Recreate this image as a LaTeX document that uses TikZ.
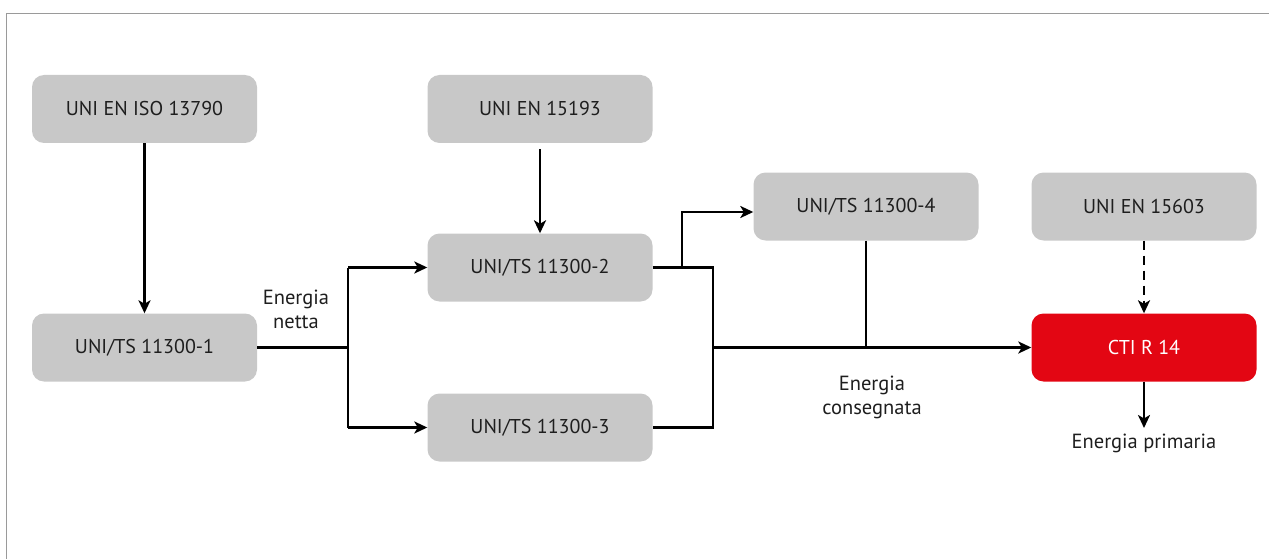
\documentclass[tikz,border=0pt]{standalone}
\usepackage{fontspec}
\setmainfont{PT Sans}
\usetikzlibrary{arrows.meta}
\definecolor{boxgray}{HTML}{C8C8C8}
\definecolor{ctired}{HTML}{E30613}
\definecolor{txt}{HTML}{1E1E1E}
\definecolor{frame}{HTML}{9A9A9A}
\begin{document}
\begin{tikzpicture}[x=1pt,y=-1pt,
  stdbox/.style={fill=boxgray,rounded corners=12pt,minimum width=225pt,minimum height=68pt,inner sep=0pt,text=txt,font=\fontsize{20}{23}\selectfont},
  redbox/.style={stdbox,fill=ctired,text=white},
  conn/.style={line width=2.4pt,draw=black},
  arr/.style={conn,-{Stealth[length=13pt,width=12pt,inset=3.5pt]}},
  lbl/.style={text=txt,font=\fontsize{20.5}{24}\selectfont,align=center,inner sep=0pt}]
\useasboundingbox (0,0) rectangle (1269,559);
\draw[frame,line width=1.5pt] (1269,13.5) -- (6.5,13.5) -- (6.5,559);

\node[stdbox] (iso) at (144.5,109) {UNI EN ISO 13790};
\node[stdbox] (en15193) at (540,109) {UNI EN 15193};
\node[stdbox] (ts4) at (866,206.5) {UNI/TS 11300-4};
\node[stdbox] (en15603) at (1144,206.5) {UNI EN 15603};
\node[stdbox] (ts1) at (144.5,347.5) {UNI/TS 11300-1};
\node[stdbox] (ts2) at (540,267.5) {UNI/TS 11300-2};
\node[stdbox] (ts3) at (540,427.5) {UNI/TS 11300-3};
\node[redbox] (cti) at (1144,347.5) {CTI R 14};

\coordinate (split) at (348,347.5);
\coordinate (splitT) at (348,267.5);
\coordinate (splitB) at (348,427.5);
\coordinate (jT) at (713,267.5);
\coordinate (jB) at (713,427.5);
\coordinate (jM) at (713,347.5);
\coordinate (br) at (682,267.5);
\coordinate (brT) at (682,212);
\coordinate (m4) at (866,347.5);
\coordinate (ep) at (1144,428);

\draw[arr] (iso) -- (ts1);
\draw[arr,shorten <=6pt] (en15193) -- (ts2);
\draw[conn] (ts1.east) -- (split);
\draw[conn] (splitT) -- (splitB);
\draw[arr] (splitT) -- (ts2.west);
\draw[arr] (splitB) -- (ts3.west);
\draw[conn] (ts2.east) -- (jT) -- (jB) -- (ts3.east);
\draw[arr] (br) -- (brT) -- (ts4.west |- brT);
\draw[arr] (jM) -- (cti.west);
\draw[conn] (ts4.south) -- (m4);
\draw[arr,dashed,dash pattern=on 9pt off 6pt] (en15603) -- (cti);
\draw[arr] (cti.south) -- (ep);

\node[lbl] (lnetta) at (296,309) {Energia\\netta};
\node[lbl] (lcons) at (872,397) {Energia\\consegnata};
\node[lbl] (lprim) at (1144,443) {Energia primaria};
\end{tikzpicture}
\end{document}
